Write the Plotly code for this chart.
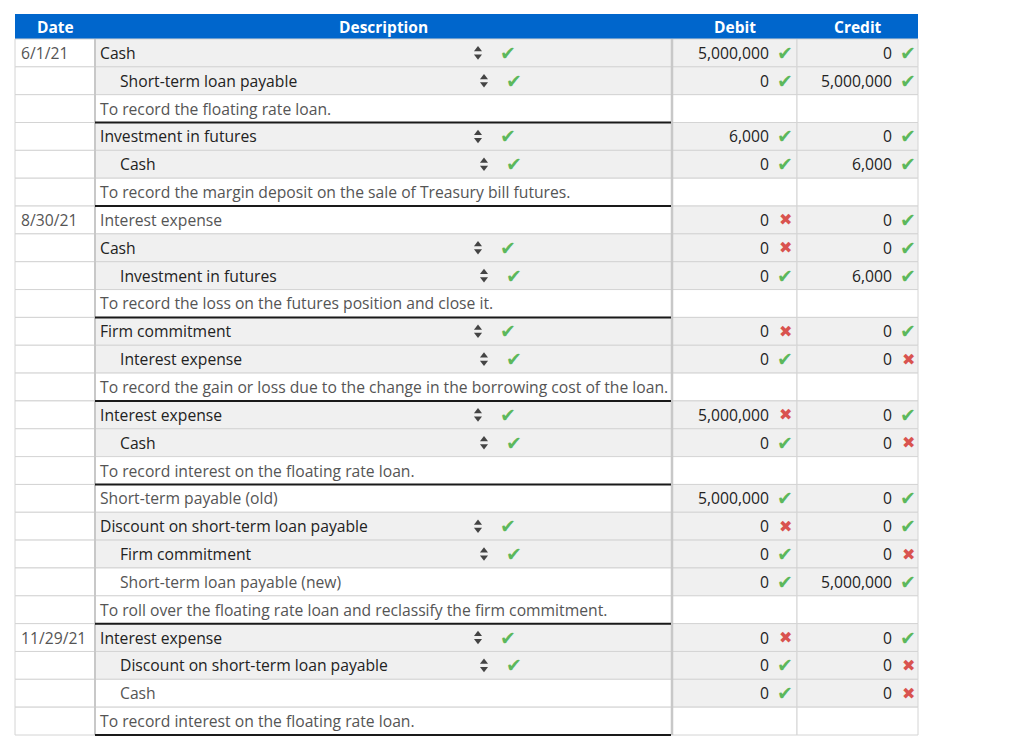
import plotly.graph_objects as go

# ---------------- data ----------------
headers = ["Date", "Description", "Debit", "Credit"]

dates = ["6/1/21", "", "", "", "", "",
         "8/30/21", "", "", "", "", "", "", "", "", "",
         "", "", "", "", "",
         "11/29/21", "", "", ""]

accounts = [
    "Cash",
    "Short-term loan payable",
    "To record the floating rate loan.",
    "Investment in futures",
    "Cash",
    "To record the margin deposit on the sale of Treasury bill futures.",
    "Interest expense",
    "Cash",
    "Investment in futures",
    "To record the loss on the futures position and close it.",
    "Firm commitment",
    "Interest expense",
    "To record the gain or loss due to the change in the borrowing cost of the loan.",
    "Interest expense",
    "Cash",
    "To record interest on the floating rate loan.",
    "Short-term payable (old)",
    "Discount on short-term loan payable",
    "Firm commitment",
    "Short-term loan payable (new)",
    "To roll over the floating rate loan and reclassify the firm commitment.",
    "Interest expense",
    "Discount on short-term loan payable",
    "Cash",
    "To record interest on the floating rate loan.",
]

# S = selectable account (dropdown), F = fixed account, N = explanation note
row_kind = ["S", "S", "N", "S", "S", "N",
            "F", "S", "S", "N", "S", "S", "N", "S", "S", "N",
            "F", "S", "S", "F", "N",
            "S", "S", "F", "N"]

indent = [0, 1, 0, 0, 1, 0,
          0, 0, 1, 0, 0, 1, 0, 0, 1, 0,
          0, 0, 1, 1, 0,
          0, 1, 1, 0]

debit = ["5,000,000", "0", "", "6,000", "0", "",
         "0", "0", "0", "", "0", "0", "", "5,000,000", "0", "",
         "5,000,000", "0", "0", "0", "",
         "0", "0", "0", ""]
debit_ok = [1, 1, None, 1, 1, None,
            0, 0, 1, None, 0, 1, None, 0, 1, None,
            1, 0, 1, 1, None,
            0, 1, 1, None]

credit = ["0", "5,000,000", "", "0", "6,000", "",
          "0", "0", "6,000", "", "0", "0", "", "0", "0", "",
          "0", "0", "0", "5,000,000", "",
          "0", "0", "0", ""]
credit_ok = [1, 1, None, 1, 1, None,
             1, 1, 1, None, 1, 0, None, 1, 0, None,
             1, 1, 0, 1, None,
             1, 0, 0, None]

# ---------------- layout constants ----------------
W, H = 1024, 747
OFF = 8  # page body margin compensation
col_edges = [15, 95, 672, 797, 918]
head_top, head_bot = 14, 39
table_bot = 735
n = len(accounts)
row_h = (table_bot - head_bot) / n

BLUE = "#0066cc"
GRAY_BG = "#f0f0f0"
GRID = "#d4d4d4"
GREEN = "#5cb85c"
RED = "#d9534f"
FONT = "Open Sans"
FS = 15.7
CHK = 19
XS = 16

shapes = []
ann = []


def rect(x0, x1, y0, y1, fill, line=GRID, lw=1):
    shapes.append(dict(type="rect", xref="x", yref="y", x0=x0, x1=x1, y0=y0, y1=y1,
                       fillcolor=fill, line=dict(color=line, width=lw), layer="below"))


def hline(x0, x1, y, color, w):
    shapes.append(dict(type="line", xref="x", yref="y", x0=x0, x1=x1, y0=y, y1=y,
                       line=dict(color=color, width=w), layer="above"))


def vline(x, y0, y1, color, w):
    shapes.append(dict(type="line", xref="x", yref="y", x0=x, x1=x, y0=y0, y1=y1,
                       line=dict(color=color, width=w), layer="above"))


def text(x, y, s, size=FS, color="#333", anchor="left", bold=False, family=FONT):
    if bold:
        s = "<b>" + s + "</b>"
    ann.append(dict(x=x, y=y, xref="x", yref="y", text=s, showarrow=False,
                    xanchor=anchor, yanchor="middle",
                    font=dict(family=family, size=size, color=color)))


def mark(x, y, ok):
    text(x, y, "✔" if ok else "✖", size=CHK if ok else XS,
         color=GREEN if ok else RED, anchor="center", family="DejaVu Sans")


# header
rect(col_edges[0], col_edges[-1], head_top, head_bot, BLUE, line=BLUE, lw=0)
for i, h in enumerate(headers):
    cx = (col_edges[i] + col_edges[i + 1]) / 2
    text(cx, (head_top + head_bot) / 2 + 0.5, h, size=15.5, color="white", anchor="center", bold=True)

tri_x_up, tri_y_up, tri_x_dn, tri_y_dn = [], [], [], []

for i in range(n):
    y0 = head_bot + i * row_h
    y1 = y0 + row_h
    yc = (y0 + y1) / 2
    kind = row_kind[i]

    # date cell
    rect(col_edges[0], col_edges[1], y0, y1, "white")
    if dates[i]:
        text(col_edges[0] + 4, yc, dates[i], color="#555")

    # description cell
    desc_fill = GRAY_BG if kind == "S" else "white"
    rect(col_edges[1], col_edges[2], y0, y1, desc_fill)
    tx = col_edges[1] + 3 + 20 * indent[i]
    tcol = "#222" if kind == "S" else "#555"
    text(tx, yc, accounts[i], color=tcol)
    if kind == "S":
        ax = 478 + 6 * indent[i]
        tri_x_up.append(ax); tri_y_up.append(yc - 3.3)
        tri_x_dn.append(ax); tri_y_dn.append(yc + 3.3)
        mark(ax + 30, yc, True)

    # debit / credit cells
    num_fill = "white" if kind == "N" else GRAY_BG
    rect(col_edges[2], col_edges[3], y0, y1, num_fill)
    rect(col_edges[3], col_edges[4], y0, y1, num_fill)
    if debit[i]:
        text(col_edges[3] - 26, yc, debit[i], color="#222", anchor="right")
        mark(col_edges[3] - 12, yc, debit_ok[i])
    if credit[i]:
        text(col_edges[4] - 24, yc, credit[i], color="#222", anchor="right")
        mark(col_edges[4] - 10, yc, credit_ok[i])

# thicker description-column borders
vline(col_edges[1], head_bot, table_bot, "#c8c8c8", 2)
vline(col_edges[2], head_bot, table_bot, "#c8c8c8", 2.5)

# heavy line under each explanation row
for i in range(n):
    if row_kind[i] == "N":
        yb = head_bot + (i + 1) * row_h
        hline(col_edges[1], col_edges[2] - 1, yb, "#1a1a1a", 2)

fig = go.Figure()
fig.add_trace(go.Scatter(x=tri_x_up, y=tri_y_up, mode="markers", hoverinfo="skip",
                         marker=dict(symbol="triangle-up", size=7, color="#444")))
fig.add_trace(go.Scatter(x=tri_x_dn, y=tri_y_dn, mode="markers", hoverinfo="skip",
                         marker=dict(symbol="triangle-down", size=7, color="#444")))

fig.update_layout(
    width=W, height=H,
    margin=dict(l=0, r=0, t=0, b=0),
    paper_bgcolor="white", plot_bgcolor="white",
    showlegend=False,
    xaxis=dict(range=[OFF, W + OFF], visible=False, fixedrange=True),
    yaxis=dict(range=[H + OFF, OFF], visible=False, fixedrange=True),
    shapes=shapes, annotations=ann,
)

fig.write_html("out.html")
